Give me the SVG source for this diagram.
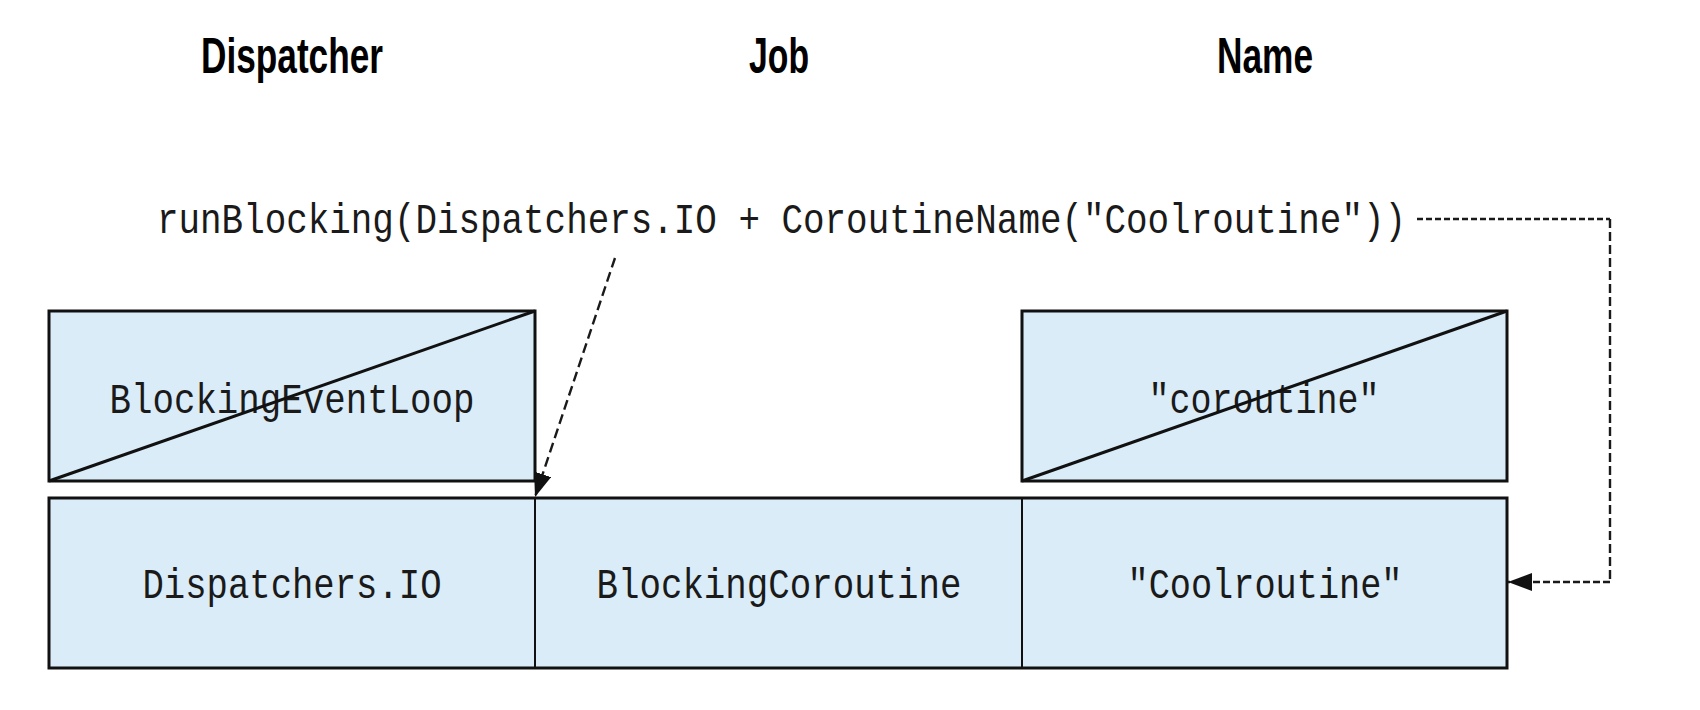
<svg xmlns="http://www.w3.org/2000/svg" width="1700" height="710" viewBox="0 0 1700 710">
  <defs>
    <style>
      .box { fill: #d9ecf8; stroke: #111; stroke-width: 3; }
      .div { stroke: #111; stroke-width: 2; fill: none; }
      .slash { stroke: #111; stroke-width: 3; fill: none; }
      .code { font-family: "Liberation Mono", "Courier New", monospace; font-size: 42px; fill: #1a1a1a; }
      .title { font-family: "Liberation Sans", Arial, sans-serif; font-weight: bold; font-size: 50px; fill: #000; }
      .dash { stroke: #1a1a1a; stroke-width: 2.4; fill: none; }
    </style>
    <marker id="arrowBig" viewBox="0 0 24 18" refX="24" refY="9" markerWidth="24" markerHeight="18" markerUnits="userSpaceOnUse" orient="auto">
      <path d="M0,0 L24,9 L0,18 Z" fill="#111"/>
    </marker>
  </defs>
  <rect width="1700" height="710" fill="#ffffff"/>

  <g id="titles">
    <text class="title" x="292" y="73" text-anchor="middle" textLength="182" lengthAdjust="spacingAndGlyphs">Dispatcher</text>
    <text class="title" x="779" y="73" text-anchor="middle" textLength="60" lengthAdjust="spacingAndGlyphs">Job</text>
    <text class="title" x="1265" y="73" text-anchor="middle" textLength="96" lengthAdjust="spacingAndGlyphs">Name</text>
  </g>

  <g id="code">
    <text class="code" x="157" y="233" textLength="1249" lengthAdjust="spacingAndGlyphs">runBlocking(Dispatchers.IO + CoroutineName("Coolroutine"))</text>
  </g>

  <g id="old-dispatcher">
    <rect class="box" x="49" y="311" width="486" height="170"/>
    <text class="code" x="292" y="413" text-anchor="middle" textLength="365" lengthAdjust="spacingAndGlyphs">BlockingEventLoop</text>
    <line class="slash" x1="49" y1="481" x2="535" y2="311"/>
  </g>

  <g id="old-name">
    <rect class="box" x="1022" y="311" width="485" height="170"/>
    <text class="code" x="1264" y="413" text-anchor="middle" textLength="231" lengthAdjust="spacingAndGlyphs">"coroutine"</text>
    <line class="slash" x1="1022" y1="481" x2="1507" y2="311"/>
  </g>

  <g id="context">
    <rect class="box" x="49" y="498" width="1458" height="170"/>
    <line class="div" x1="535" y1="498" x2="535" y2="668"/>
    <line class="div" x1="1022" y1="498" x2="1022" y2="668"/>
  </g>

  <g id="dispatcher-cell">
    <text class="code" x="292" y="598" text-anchor="middle" textLength="299" lengthAdjust="spacingAndGlyphs">Dispatchers.IO</text>
  </g>
  <g id="job-cell">
    <text class="code" x="779" y="598" text-anchor="middle" textLength="365" lengthAdjust="spacingAndGlyphs">BlockingCoroutine</text>
  </g>
  <g id="name-cell">
    <text class="code" x="1265" y="598" text-anchor="middle" textLength="275" lengthAdjust="spacingAndGlyphs">"Coolroutine"</text>
  </g>

  <g id="connectors">
    <line class="dash" x1="615" y1="258" x2="535" y2="497" stroke-dasharray="10 5" marker-end="url(#arrowBig)"/>
    <line class="dash" x1="1417" y1="219" x2="1610" y2="219" stroke-dasharray="6 3"/>
    <line class="dash" x1="1610" y1="219" x2="1610" y2="582" stroke-dasharray="9 4"/>
    <line class="dash" x1="1610" y1="582" x2="1508" y2="582" stroke-dasharray="7 3" marker-end="url(#arrowBig)"/>
  </g>
</svg>
